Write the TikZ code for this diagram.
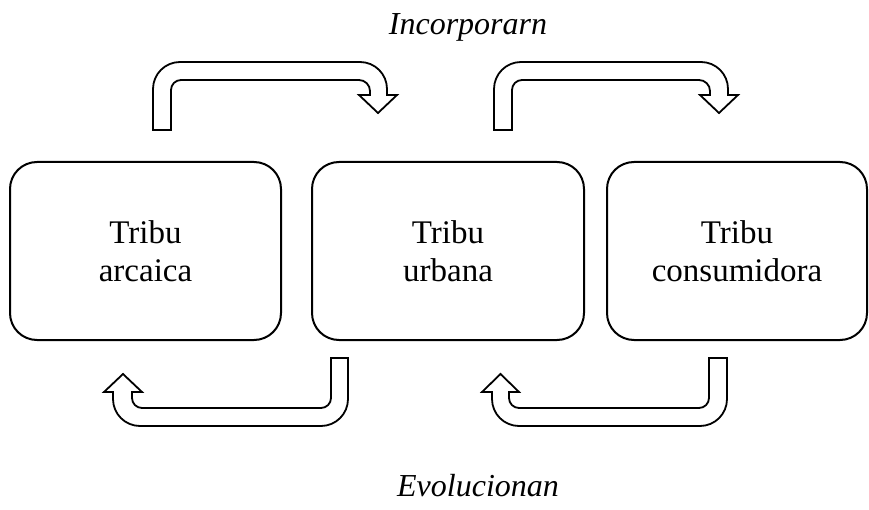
\documentclass[tikz,border=0pt]{standalone}
\usepackage{fontspec}
\setmainfont{Liberation Serif}
\begin{document}
\begin{tikzpicture}[x=1pt,y=1pt,
  tribubox/.style={draw, line width=2pt, rounded corners=27pt, align=center,
    font=\fontsize{33}{38}\selectfont, inner sep=0pt},
  bentarrow/.style={draw, fill=white, line width=1.8pt, line join=miter},
  flowlabel/.style={font=\fontsize{32}{38}\selectfont\itshape, anchor=base}]
\useasboundingbox (0,0) rectangle (869,509);

% the three tribes
\node[tribubox, minimum width=271pt, minimum height=178pt] (arcaica) at (145.5,258) {Tribu\\arcaica};
\node[tribubox, minimum width=272pt, minimum height=178pt] (urbana) at (448,258) {Tribu\\urbana};
\node[tribubox, minimum width=260pt, minimum height=178pt] (consum) at (737,258) {Tribu\\consumidora};

% upper bent arrows
\draw[bentarrow] (153,379) -- (153,420) arc[start angle=180,end angle=90,radius=27]
  -- (360,447) arc[start angle=90,end angle=0,radius=27]
  -- (387,414) -- (397,414) -- (378,396) -- (359,414) -- (370,414)
  -- (370,418) arc[start angle=0,end angle=90,radius=11]
  -- (181,429) arc[start angle=90,end angle=180,radius=10]
  -- (171,379) -- cycle;
\draw[bentarrow] (494,379) -- (494,420) arc[start angle=180,end angle=90,radius=27]
  -- (701,447) arc[start angle=90,end angle=0,radius=27]
  -- (728,414) -- (738,414) -- (719,396) -- (700,414) -- (710,414)
  -- (710,418) arc[start angle=0,end angle=90,radius=11]
  -- (522,429) arc[start angle=90,end angle=180,radius=10]
  -- (512,379) -- cycle;

% lower bent arrows
\draw[bentarrow] (348,151) -- (348,110) arc[start angle=0,end angle=-90,radius=27]
  -- (140,83) arc[start angle=270,end angle=180,radius=27]
  -- (113,117) -- (104,117) -- (123,135) -- (142,117) -- (132,117)
  -- (132,111) arc[start angle=180,end angle=270,radius=10]
  -- (321,101) arc[start angle=270,end angle=360,radius=10]
  -- (331,151) -- cycle;
\draw[bentarrow] (727,151) -- (727,110) arc[start angle=0,end angle=-90,radius=27]
  -- (519,83) arc[start angle=270,end angle=180,radius=27]
  -- (492,117) -- (482,117) -- (500.5,135) -- (519,117) -- (509,117)
  -- (509,111) arc[start angle=180,end angle=270,radius=10]
  -- (699,101) arc[start angle=270,end angle=360,radius=10]
  -- (709,151) -- cycle;

% labels
\node[flowlabel] (incorp) at (468,474) {Incorporarn};
\node[flowlabel] (evol) at (478,13) {Evolucionan};
\end{tikzpicture}
\end{document}
